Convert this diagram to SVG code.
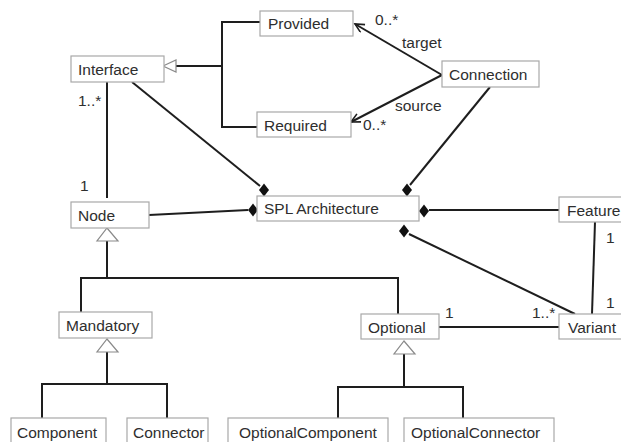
<svg xmlns="http://www.w3.org/2000/svg" width="621" height="442" viewBox="0 0 621 442">
  <style>
    .box rect { fill: #ffffff; stroke: #a8a8a8; stroke-width: 1.2; }
    text { font-family: "Liberation Sans", Arial, sans-serif; font-size: 15.5px; fill: #2e2e2e; }
    .ln { fill: none; stroke: #1e1e1e; stroke-width: 2; }
    .tri { fill: #ffffff; stroke: #8a8a8a; stroke-width: 1.2; }
    .dia { fill: #111111; }
  </style>
  <defs>
    <marker id="open" markerWidth="12" markerHeight="12" refX="10" refY="5" orient="auto" markerUnits="userSpaceOnUse">
      <path d="M1,0.5 L10,5 L1,9.5" fill="none" stroke="#1e1e1e" stroke-width="1.6"/>
    </marker>
    <path id="diamond" d="M0,-6.5 L5,0 L0,6.5 L-5,0 Z"/>
  </defs>
  <rect width="621" height="442" fill="#ffffff"/>

  <g id="connectors">
    <!-- Provided / Required generalize Interface -->
    <path class="ln" d="M176,66 H222 M260,22 H222 V127 H257"/>
    <path class="tri" d="M163,66 L176,60 L176,72 Z"/>
    <!-- Connection target / source -->
    <path class="ln" d="M442,75 L355,24" marker-end="url(#open)"/>
    <path class="ln" d="M442,75 L351,122" marker-end="url(#open)"/>
    <!-- Interface - Node -->
    <path class="ln" d="M107,82 V198"/>
    <!-- compositions into SPL Architecture -->
    <path class="ln" d="M132,82 L260,186"/>
    <path class="ln" d="M149,215 L248,210"/>
    <path class="ln" d="M490,87 L410,185"/>
    <path class="ln" d="M429,210 H559"/>
    <path class="ln" d="M409,234 L575,314"/>
    <use href="#diamond" class="dia" x="264" y="190"/>
    <use href="#diamond" class="dia" x="253" y="210"/>
    <use href="#diamond" class="dia" x="407" y="190"/>
    <use href="#diamond" class="dia" x="424" y="211"/>
    <use href="#diamond" class="dia" x="404" y="231"/>
    <!-- Feature - Variant -->
    <path class="ln" d="M595,222 L592,314"/>
    <!-- Optional - Variant -->
    <path class="ln" d="M439,327 H559"/>
    <!-- Mandatory / Optional generalize Node -->
    <path class="ln" d="M107,241 V278 M81,312 V278 H398 V314"/>
    <path class="tri" d="M107,228 L118,241 L97,241 Z"/>
    <!-- Component / Connector generalize Mandatory -->
    <path class="ln" d="M107,352 V384 M42,418 V384 H167 V418"/>
    <path class="tri" d="M107,339 L118,352 L97,352 Z"/>
    <!-- OptionalComponent / OptionalConnector generalize Optional -->
    <path class="ln" d="M404,354 V387 M338,419 V387 H463 V419"/>
    <path class="tri" d="M404,341 L415,354 L394,354 Z"/>

    <!-- multiplicities and roles -->
    <text x="78" y="106">1..*</text>
    <text x="80" y="191">1</text>
    <text x="375" y="25">0..*</text>
    <text x="402" y="48">target</text>
    <text x="395" y="111">source</text>
    <text x="363" y="130">0..*</text>
    <text x="606" y="243">1</text>
    <text x="606" y="308">1</text>
    <text x="445" y="318">1</text>
    <text x="532" y="318">1..*</text>
  </g>

  <g id="interface" class="box"><rect x="71" y="56" width="93" height="26"/><text x="78" y="75">Interface</text></g>
  <g id="provided" class="box"><rect x="260" y="11" width="93" height="25"/><text x="268" y="29">Provided</text></g>
  <g id="required" class="box"><rect x="257" y="112" width="94" height="25"/><text x="264" y="131">Required</text></g>
  <g id="connection" class="box"><rect x="442" y="61" width="97" height="26"/><text x="449" y="80">Connection</text></g>
  <g id="node" class="box"><rect x="71" y="202" width="78" height="26"/><text x="78" y="221">Node</text></g>
  <g id="spl-architecture" class="box"><rect x="257" y="196" width="162" height="25"/><text x="264" y="214">SPL Architecture</text></g>
  <g id="feature" class="box"><rect x="559" y="197" width="70" height="25"/><text x="567" y="216">Feature</text></g>
  <g id="variant" class="box"><rect x="559" y="314" width="70" height="25"/><text x="568" y="333">Variant</text></g>
  <g id="mandatory" class="box"><rect x="59" y="312" width="93" height="26"/><text x="66" y="331">Mandatory</text></g>
  <g id="optional" class="box"><rect x="361" y="314" width="78" height="25"/><text x="368" y="333">Optional</text></g>
  <g id="component" class="box"><rect x="11" y="418" width="95" height="30"/><text x="17" y="438">Component</text></g>
  <g id="connector" class="box"><rect x="127" y="418" width="81" height="30"/><text x="133" y="438">Connector</text></g>
  <g id="optional-component" class="box"><rect x="228" y="418" width="160" height="30"/><text x="239" y="438">OptionalComponent</text></g>
  <g id="optional-connector" class="box"><rect x="404" y="418" width="150" height="30"/><text x="411" y="438">OptionalConnector</text></g>
</svg>
